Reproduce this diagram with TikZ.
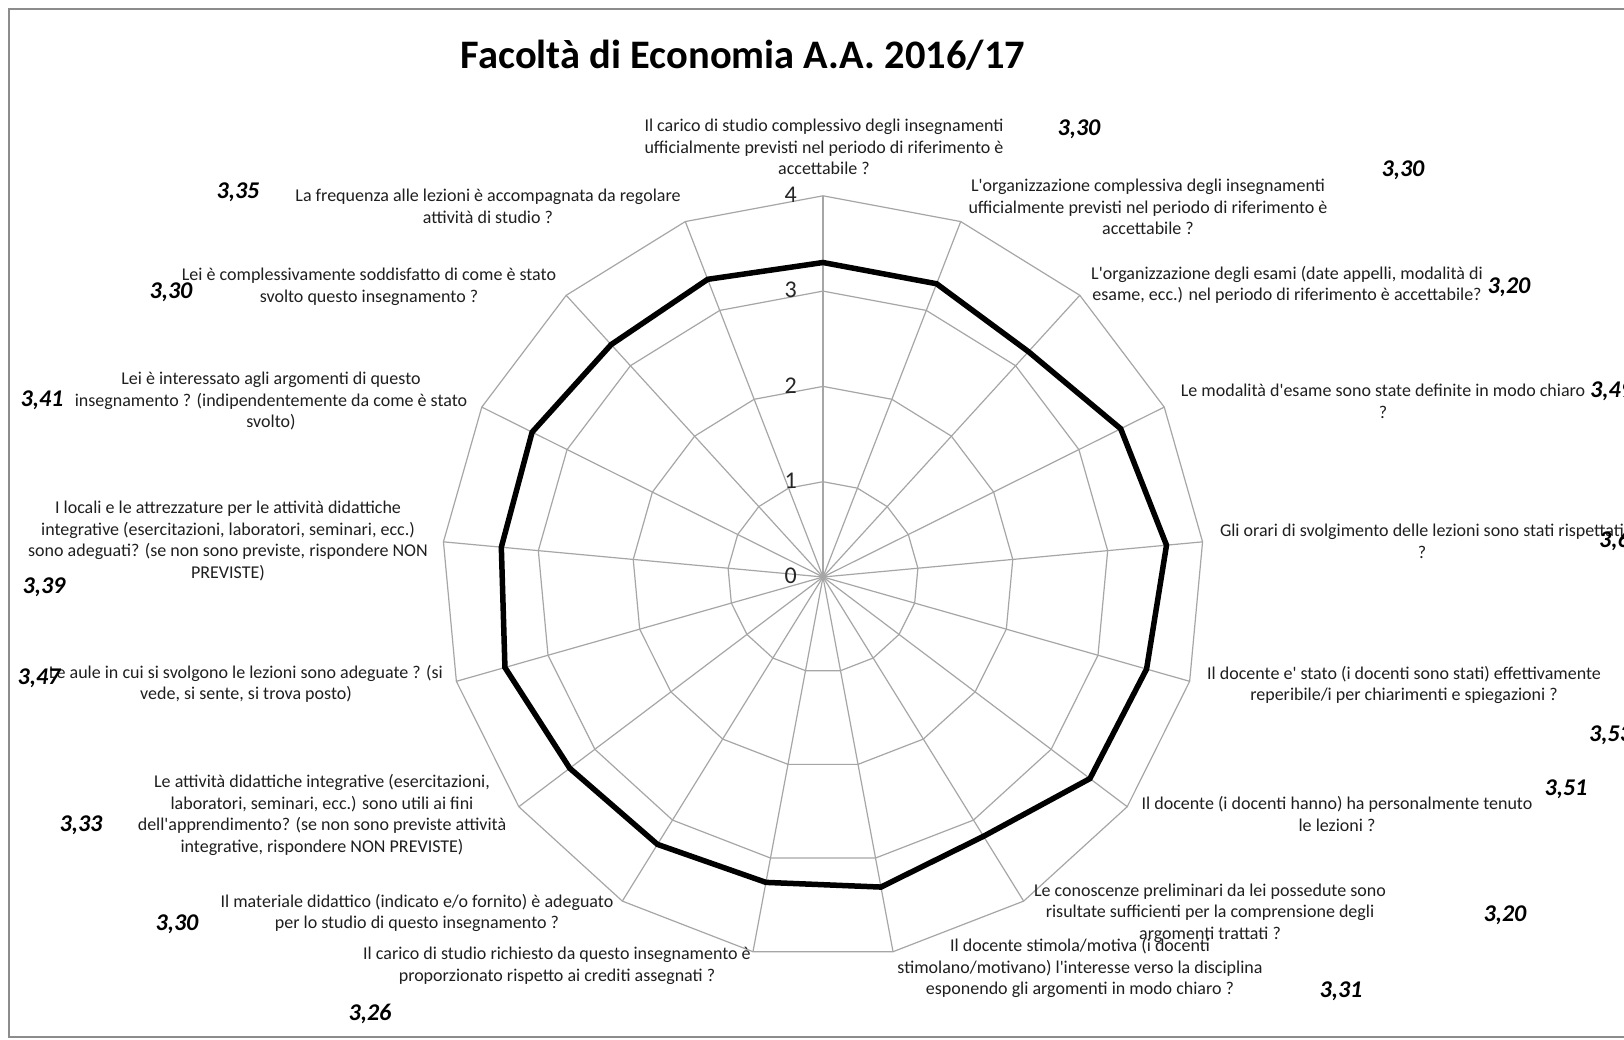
\documentclass[tikz,border=0pt]{standalone}
\usepackage{fontspec}
\setmainfont{Carlito}
\newfontfamily\calibri{Carlito}
\definecolor{gridgray}{HTML}{A6A6A6}
\definecolor{framegray}{HTML}{8C8C8C}
\begin{document}
\begin{tikzpicture}[x=1pt,y=-1pt,
  grid/.style={draw=gridgray, line width=1.2pt},
  series/.style={draw=black, line width=5.5pt, line join=miter},
  qlabel/.style={font=\calibri\fontsize{18}{21.7}\selectfont, align=center, inner sep=0pt, text=black!88},
  vlabel/.style={font=\calibri\fontsize{24}{28}\selectfont\bfseries\itshape, inner sep=0pt},
  axlabel/.style={font=\calibri\fontsize{24}{28}\selectfont, inner sep=0pt, anchor=east, text=black!85},
  titlelabel/.style={font=\calibri\fontsize{40.5}{46}\selectfont\bfseries, inner sep=0pt}
]
\useasboundingbox (0,0) rectangle (1624,1039);
\fill[white] (0,0) rectangle (1624,1039);
\draw[framegray, line width=1.5pt] (9,9) rectangle (1700,1037);

% title
\node[titlelabel] (title) at (743,55) {Facoltà di Economia A.A. 2016/17};

% spokes
\coordinate (c) at (823,577);
\foreach \k in {0,...,16}
  \draw[grid] (c) -- ({823+381.2*sin(\k*360/17)},{577-381.2*cos(\k*360/17)});
% rings
\foreach \r in {1,2,3,4}
  \draw[grid] (823,{577-95.3*\r}) \foreach \k in {1,...,16}{ -- ({823+95.3*\r*sin(\k*360/17)},{577-95.3*\r*cos(\k*360/17)}) } -- cycle;

% axis labels
\foreach \r in {0,...,4}
  \node[axlabel] (ax\r) at (797,{576-95.3*\r}) {\r};

% data series
\foreach \v [count=\k from 0] in {3.30,3.30,3.20,3.49,3.62,3.53,3.51,3.20,3.31,3.26,3.30,3.33,3.47,3.39,3.41,3.30,3.35}
  \coordinate (d\k) at ({823+95.3*\v*sin(\k*360/17)},{577-95.3*\v*cos(\k*360/17)});
\draw[series] (d0) \foreach \k in {1,...,16}{ -- (d\k) } -- cycle;

% category labels
\node[qlabel] (q0) at (824,147) {Il carico di studio complessivo degli insegnamenti\\ufficialmente previsti nel periodo di riferimento è\\accettabile ?};
\node[qlabel] (q1) at (1148,207) {L'organizzazione complessiva degli insegnamenti\\ufficialmente previsti nel periodo di riferimento è\\accettabile ?};
\node[qlabel] (q2) at (1287,285) {L'organizzazione degli esami (date appelli, modalità di\\esame, ecc.) nel periodo di riferimento è accettabile?};
\node[qlabel] (q3) at (1383,401) {Le modalità d'esame sono state definite in modo chiaro\\?};
\node[qlabel] (q4) at (1422,541) {Gli orari di svolgimento delle lezioni sono stati rispettati\\?};
\node[qlabel] (q5) at (1404,685) {Il docente e' stato (i docenti sono stati) effettivamente\\reperibile/i per chiarimenti e spiegazioni ?};
\node[qlabel] (q6) at (1337,814) {Il docente (i docenti hanno) ha personalmente tenuto\\le lezioni ?};
\node[qlabel] (q7) at (1210,913) {Le conoscenze preliminari da lei possedute sono\\risultate sufficienti per la comprensione degli\\argomenti trattati ?};
\node[qlabel] (q8) at (1080,968) {Il docente stimola/motiva (i docenti\\stimolano/motivano) l'interesse verso la disciplina\\esponendo gli argomenti in modo chiaro ?};
\node[qlabel] (q9) at (557,966) {Il carico di studio richiesto da questo insegnamento è\\proporzionato rispetto ai crediti assegnati ?};
\node[qlabel] (q10) at (417,913) {Il materiale didattico (indicato e/o fornito) è adeguato\\per lo studio di questo insegnamento ?};
\node[qlabel] (q11) at (322,815) {Le attività didattiche integrative (esercitazioni,\\laboratori, seminari, ecc.) sono utili ai fini\\dell'apprendimento? (se non sono previste attività\\integrative, rispondere NON PREVISTE)};
\node[qlabel] (q12) at (246,684) {Le aule in cui si svolgono le lezioni sono adeguate ? (si\\vede, si sente, si trova posto)};
\node[qlabel] (q13) at (228,541) {I locali e le attrezzature per le attività didattiche\\integrative (esercitazioni, laboratori, seminari, ecc.)\\sono adeguati? (se non sono previste, rispondere NON\\PREVISTE)};
\node[qlabel] (q14) at (271,401) {Lei è interessato agli argomenti di questo\\insegnamento ? (indipendentemente da come è stato\\svolto)};
\node[qlabel] (q15) at (369,287) {Lei è complessivamente soddisfatto di come è stato\\svolto questo insegnamento ?};
\node[qlabel] (q16) at (488,206) {La frequenza alle lezioni è accompagnata da regolare\\attività di studio ?};

% value labels
\node[vlabel] (v0) at (1079,129) {3,30};
\node[vlabel] (v1) at (1403,170) {3,30};
\node[vlabel] (v2) at (1509,287) {3,20};
\node[vlabel, anchor=west] (v3) at (1590,391) {3,49};
\node[vlabel, anchor=west] (v4) at (1599,541) {3,62};
\node[vlabel, anchor=west] (v5) at (1589,735) {3,53};
\node[vlabel] (v6) at (1566,789) {3,51};
\node[vlabel] (v7) at (1505,915) {3,20};
\node[vlabel] (v8) at (1341,991) {3,31};
\node[vlabel] (v9) at (370,1014) {3,26};
\node[vlabel] (v10) at (177,924) {3,30};
\node[vlabel] (v11) at (81,825) {3,33};
\node[vlabel] (v12) at (39,678) {3,47};
\node[vlabel] (v13) at (44,587) {3,39};
\node[vlabel] (v14) at (42,400) {3,41};
\node[vlabel] (v15) at (171,292) {3,30};
\node[vlabel] (v16) at (238,192) {3,35};
\end{tikzpicture}
\end{document}
